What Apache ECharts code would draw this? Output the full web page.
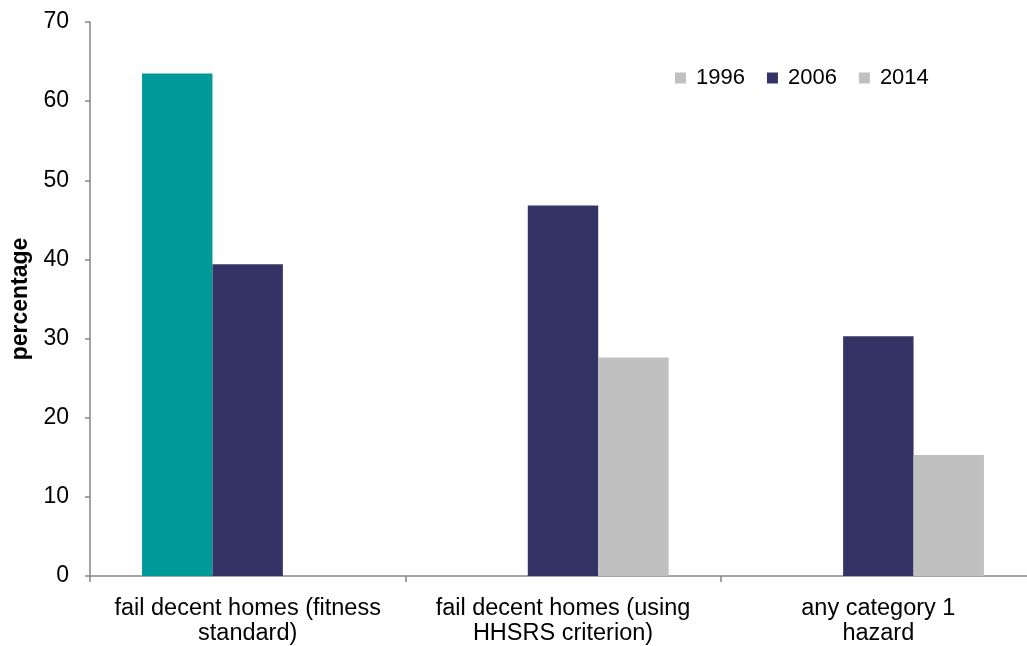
<!DOCTYPE html>
<html><head><meta charset="utf-8">
<script src="https://cdn.jsdelivr.net/npm/echarts@6/dist/echarts.min.js"></script>
<style>html,body{margin:0;padding:0;background:#fff}#c{width:1027px;height:646px}</style>
</head><body><div id="c"></div>
<script>
const categories = ['fail decent homes (fitness\nstandard)', 'fail decent homes (using\nHHSRS criterion)', 'any category 1\nhazard'];
const seriesNames = ['1996', '2006', '2014'];
const values1996 = [63.5, null, null];
const values2006 = [39.4, 46.8, 30.3];
const values2014 = [null, 27.6, 15.3];
const yTicks = [0, 10, 20, 30, 40, 50, 60, 70];

const chart = echarts.init(document.getElementById('c'));
const font = 'Liberation Sans, Arial, sans-serif';
chart.setOption({
  animation: false,
  textStyle: { fontFamily: font },
  grid: { left: 90, top: 22, right: -9, bottom: 70, containLabel: false, outerBoundsMode: 'none' },
  legend: {
    top: 62, left: 670, itemWidth: 11, itemHeight: 11, itemGap: 22,
    icon: 'rect',
    textStyle: { fontSize: 22, color: '#000', fontFamily: font, padding: [0, 0, 0, 5] },
    data: seriesNames
  },
  xAxis: {
    type: 'category', data: categories,
    axisLine: { lineStyle: { color: '#868686', width: 1.5 } },
    axisTick: { show: true, interval: 0, length: 6, lineStyle: { color: '#868686', width: 1.5 } },
    axisLabel: { interval: 0, color: '#000', fontSize: 23.5, lineHeight: 25, margin: 20, fontFamily: font }
  },
  yAxis: {
    type: 'value', min: yTicks[0], max: yTicks[yTicks.length-1], interval: 10,
    name: 'percentage', nameLocation: 'middle', nameGap: 56, nameRotate: 90,
    nameTextStyle: { fontSize: 23, fontWeight: 'bold', color: '#000' },
    axisLine: { show: true, lineStyle: { color: '#868686', width: 1.5 } },
    axisTick: { show: true, length: 5, inside: false, lineStyle: { color: '#868686', width: 1.5 } },
    axisLabel: { color: '#000', fontSize: 23, margin: 21 },
    splitLine: { show: false }
  },
  series: [
    { name: seriesNames[0], type: 'bar', barGap: '0%', barCategoryGap: '33%',
      itemStyle: { color: '#C0C0C0' },
      data: values1996.map((v, i) => i === 0 ? { value: v, itemStyle: { color: '#009999' } } : v) },
    { name: seriesNames[1], type: 'bar', barGap: '0%', barCategoryGap: '33%',
      itemStyle: { color: '#333366' }, data: values2006 },
    { name: seriesNames[2], type: 'bar', barGap: '0%', barCategoryGap: '33%',
      itemStyle: { color: '#C0C0C0' }, data: values2014 }
  ]
});
</script></body></html>
